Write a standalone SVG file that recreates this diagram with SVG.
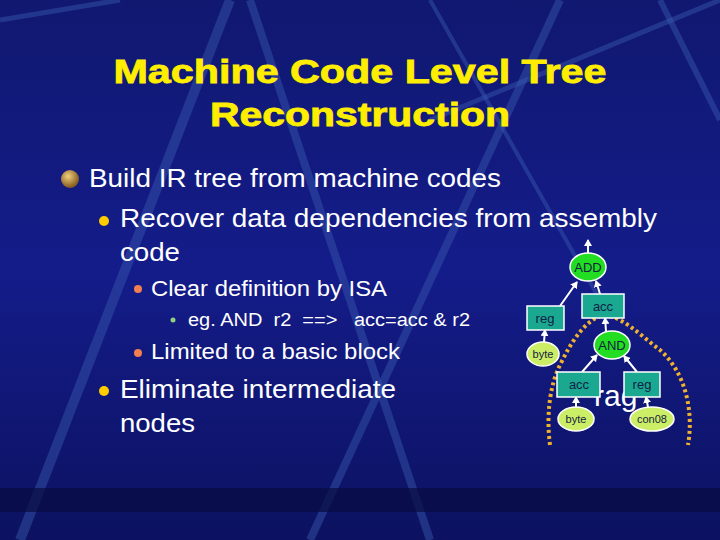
<svg xmlns="http://www.w3.org/2000/svg" width="720" height="540" viewBox="0 0 720 540">
<defs>
<linearGradient id="bg" x1="0" y1="0" x2="0" y2="1"><stop offset="0" stop-color="#101870"/><stop offset="0.5" stop-color="#141c8a"/><stop offset="1" stop-color="#0c1260"/></linearGradient>
<marker id="ah" markerWidth="8" markerHeight="8" refX="6" refY="4" orient="auto" markerUnits="userSpaceOnUse"><path d="M0,0 L7,4 L0,8 z" fill="#fff"/></marker>
<radialGradient id="ball" cx="0.4" cy="0.35" r="0.6"><stop offset="0" stop-color="#f0d080"/><stop offset="1" stop-color="#8a6020"/></radialGradient>
</defs>
<style>
.t{font-family:"Liberation Sans",Arial,sans-serif;fill:#fff}
.n{font-family:"Liberation Sans",Arial,sans-serif;fill:#124;text-anchor:middle}
.box{fill:#1aa890;stroke:#fff;stroke-width:1.5}
.op{fill:#22dd22;stroke:#fff;stroke-width:1.5}
.lf{fill:#ccee66;stroke:#fff;stroke-width:1.5}
.e{stroke:#fff;stroke-width:2;fill:none;marker-end:url(#ah)}
</style>
<rect width="720" height="540" fill="url(#bg)"/>
<g stroke="#3a5cb0" stroke-opacity="0.45" fill="none">
<path d="M20,540 L230,0" stroke-width="10"/>
<path d="M250,0 L430,540" stroke-width="8"/>
<path d="M310,540 L560,0" stroke-width="8"/>
<path d="M430,120 L720,0" stroke-width="5"/>
<path d="M660,0 L720,120" stroke-width="6"/>
<path d="M430,0 L600,300" stroke-width="4"/>
<path d="M0,20 L120,0" stroke-width="5"/>
</g>
<rect x="0" y="488" width="720" height="24" fill="#080c40" opacity="0.7"/>
<g font-family="Liberation Sans,Arial,sans-serif" font-weight="bold" font-size="33" fill="#ffee00" text-anchor="middle" stroke="#ffee00" stroke-width="0.8" lengthAdjust="spacingAndGlyphs">
<text x="360" y="83" textLength="493" lengthAdjust="spacingAndGlyphs">Machine Code Level Tree</text>
<text x="360" y="126" textLength="300" lengthAdjust="spacingAndGlyphs">Reconstruction</text>
</g>
<circle cx="70" cy="179" r="9" fill="url(#ball)"/>
<text class="t" x="89" y="187" font-size="26" textLength="412" lengthAdjust="spacingAndGlyphs">Build IR tree from machine codes</text>
<circle cx="104" cy="221" r="5" fill="#ffcc00"/>
<text class="t" x="120" y="227" font-size="26" textLength="537" lengthAdjust="spacingAndGlyphs">Recover data dependencies from assembly</text>
<text class="t" x="120" y="261" font-size="26" textLength="60" lengthAdjust="spacingAndGlyphs">code</text>
<circle cx="138" cy="289" r="4" fill="#f08050"/>
<text class="t" x="151" y="296" font-size="22" textLength="236" lengthAdjust="spacingAndGlyphs">Clear definition by ISA</text>
<circle cx="173" cy="320" r="2.5" fill="#90d080"/>
<text class="t" x="188" y="326" font-size="18" xml:space="preserve" textLength="282" lengthAdjust="spacingAndGlyphs">eg. AND  r2  ==>   acc=acc &amp; r2</text>
<circle cx="138" cy="353" r="4" fill="#f08050"/>
<text class="t" x="151" y="359" font-size="22" textLength="249" lengthAdjust="spacingAndGlyphs">Limited to a basic block</text>
<circle cx="104" cy="391" r="5" fill="#ffcc00"/>
<text class="t" x="120" y="398" font-size="26" textLength="276" lengthAdjust="spacingAndGlyphs">Eliminate intermediate</text>
<text class="t" x="120" y="432" font-size="26" textLength="75" lengthAdjust="spacingAndGlyphs">nodes</text>
<text class="t" x="594" y="406" font-size="30">rag</text>
<path d="M550,445 C546,415 550,385 560,365 C572,340 585,322 600,316 C618,312 640,335 660,350 C685,372 694,410 688,445" fill="none" stroke="#f0b030" stroke-width="4" stroke-dasharray="3,3"/>
<g id="connectors">
<path class="e" d="M588,253 L588,240"/>
<path class="e" d="M560,306 L577,282"/>
<path class="e" d="M600,294 L596,281"/>
<path class="e" d="M606,331 L605,318"/>
<path class="e" d="M582,372 L597,355"/>
<path class="e" d="M637,372 L624,356"/>
<path class="e" d="M544,342 L545,330"/>
<path class="e" d="M576,407 L576,397"/>
<path class="e" d="M648,407 L646,397"/>
</g>
<g id="ADD"><ellipse class="op" cx="588" cy="267" rx="18" ry="14"/><text class="n" x="588" y="272" font-size="13">ADD</text></g>
<g id="acc1"><rect class="box" x="582" y="294" width="42" height="24"/><text class="n" x="603" y="311" font-size="13">acc</text></g>
<g id="reg1"><rect class="box" x="527" y="306" width="37" height="24"/><text class="n" x="545" y="323" font-size="13">reg</text></g>
<g id="byte1"><ellipse class="lf" cx="543" cy="354" rx="16" ry="12"/><text class="n" x="543" y="358" font-size="11">byte</text></g>
<g id="AND"><ellipse class="op" cx="612" cy="345" rx="18" ry="14"/><text class="n" x="612" y="350" font-size="13">AND</text></g>
<g id="acc2"><rect class="box" x="557" y="372" width="43" height="25"/><text class="n" x="579" y="389" font-size="13">acc</text></g>
<g id="reg2"><rect class="box" x="624" y="372" width="36" height="25"/><text class="n" x="642" y="389" font-size="13">reg</text></g>
<g id="byte2"><ellipse class="lf" cx="576" cy="419" rx="18" ry="12"/><text class="n" x="576" y="423" font-size="11">byte</text></g>
<g id="con08"><ellipse class="lf" cx="652" cy="419" rx="22" ry="12"/><text class="n" x="652" y="423" font-size="11">con08</text></g>
</svg>
